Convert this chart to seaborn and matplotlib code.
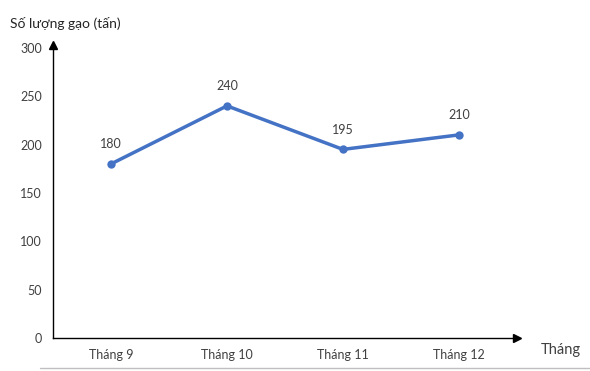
import matplotlib
matplotlib.use("Agg")
import pandas as pd
import seaborn as sns
import matplotlib.pyplot as plt

months = ["Tháng 9", "Tháng 10", "Tháng 11", "Tháng 12"]
rice = [180, 240, 195, 210]
yticks = [0, 50, 100, 150, 200, 250, 300]

sns.set_style("white")
plt.rcParams['font.family'] = ['Lato', 'Open Sans', 'DejaVu Sans']

df = pd.DataFrame({"month": months, "rice": rice})

fig = plt.figure(figsize=(5.9, 3.71), dpi=100)
ax = fig.add_axes([0.09, 0.089, 0.786, 0.782])

sns.lineplot(x="month", y="rice", data=df, ax=ax, color="#4472C4",
             linewidth=2.5, marker="o", markersize=6, markeredgewidth=0, sort=False)

for i, v in enumerate(rice):
    ax.annotate(str(v), (i, v), xytext=(0, 10), textcoords="offset points",
                ha="center", va="bottom", fontsize=9, color="#404040")

ax.set_xlim(-0.5, 3.5)
ax.set_ylim(0, 300)
ax.set_yticks(yticks)
ax.tick_params(axis="both", length=0, labelsize=9, labelcolor="#404040", pad=8)
ax.set_xlabel("")
ax.set_ylabel("")

for s in ["top", "right"]:
    ax.spines[s].set_visible(False)
for s in ["left", "bottom"]:
    ax.spines[s].set_color("black")
    ax.spines[s].set_linewidth(1.0)
ax.spines["left"].set_bounds(0, 303)

# arrow heads
ax.plot(1, 0, ">", color="black", markersize=6, transform=ax.transAxes, clip_on=False)
ax.plot(0, 1.01, "^", color="black", markersize=6, transform=ax.transAxes, clip_on=False)

fig.text(10 / 590, 1 - 23 / 371, "Số lượng gạo (tấn)", fontsize=10, color="#262626", va="center")
fig.text(541 / 590, 1 - 350 / 371, "Tháng", fontsize=10.5, color="#404040", va="center")

# thin grey line at the bottom
fig.add_artist(plt.Line2D([40 / 590, 1], [1 - 368 / 371] * 2, color="#BFBFBF", linewidth=1))

fig.savefig("out.png", dpi=100)
